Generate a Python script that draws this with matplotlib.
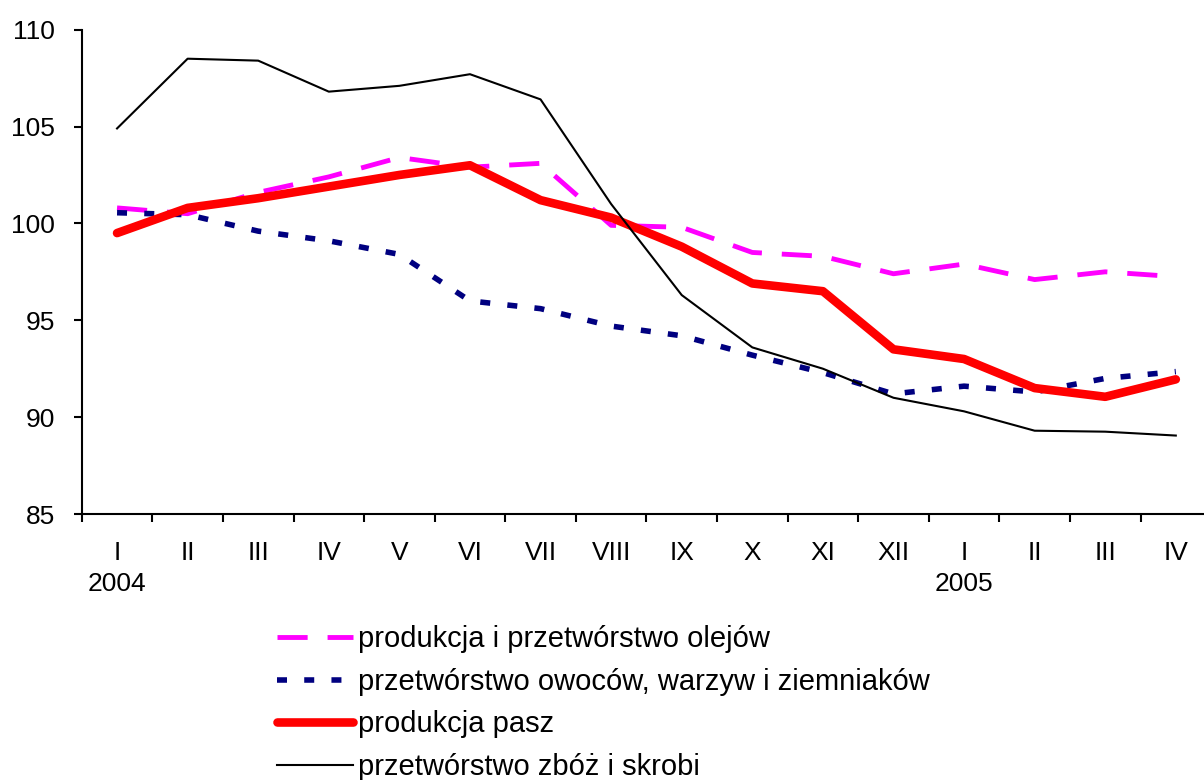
import matplotlib
matplotlib.use('Agg')
import matplotlib.pyplot as plt
import matplotlib.transforms as mtransforms
import numpy as np

plt.rcParams['font.family'] = ['Liberation Sans', 'DejaVu Sans']

# months Jan 2004 - Apr 2005
months = ['I', 'II', 'III', 'IV', 'V', 'VI', 'VII', 'VIII', 'IX', 'X', 'XI', 'XII',
          'I', 'II', 'III', 'IV']
years = ['2004', '2005']
year_pos = [0, 12]

oleje = [100.8, 100.5, 101.6, 102.4, 103.4, 102.9, 103.1, 99.9,
         99.8, 98.5, 98.3, 97.4, 97.9, 97.1, 97.5, 97.25]
owoce = [100.55, 100.45, 99.6, 99.1, 98.4, 96.0, 95.6, 94.7,
         94.2, 93.2, 92.3, 91.2, 91.6, 91.3, 92.0, 92.35]
pasze = [99.5, 100.8, 101.3, 101.9, 102.5, 103.0, 101.2, 100.3,
         98.8, 96.9, 96.5, 93.5, 93.0, 91.5, 91.05, 91.95]
zboza = [104.9, 108.5, 108.4, 106.8, 107.1, 107.7, 106.4, 101.0,
         96.3, 93.6, 92.5, 91.0, 90.3, 89.3, 89.25, 89.05]

labels = ['produkcja i przetwórstwo olejów',
          'przetwórstwo owoców, warzyw i ziemniaków',
          'produkcja pasz',
          'przetwórstwo zbóż i skrobi']

fig = plt.figure(figsize=(12.04, 7.8), dpi=100)
# the chart area runs a little past the right edge of the picture
ax = fig.add_axes([0.0679, 0.341, 0.938, 0.621])

x = np.arange(len(months))
ax.plot(x, oleje, color='#FF00FF', lw=3.5, dashes=(6.2, 4.1), label=labels[0])
ax.plot(x, owoce, color='#000080', lw=4, dashes=(1.8, 3.1), label=labels[1])
ax.plot(x, pasze, color='#FF0000', lw=6.2, solid_capstyle='round',
        solid_joinstyle='round', label=labels[2])
ax.plot(x, zboza, color='black', lw=1.5, label=labels[3])

ax.set_xlim(-0.5, len(months) - 0.5)
ax.set_ylim(85, 110)
ax.set_yticks(np.arange(85, 111, 5))
ax.tick_params(axis='y', labelsize=19, length=6, width=1.5, direction='out', pad=13)

# boundaries get the tick marks, centres get the labels
ax.set_xticks(np.arange(-0.5, len(months), 1))
ax.set_xticklabels([])
ax.set_xticks(x, minor=True)
ax.set_xticklabels(months, minor=True)
ax.tick_params(axis='x', which='major', length=6, width=1.5, direction='out')
ax.tick_params(axis='x', which='minor', length=0, labelsize=19, pad=19.5)

trans = mtransforms.blended_transform_factory(ax.transData, ax.transAxes)
for yr, pos in zip(years, year_pos):
    ax.text(pos, -0.145, yr, transform=trans, ha='center', va='center', fontsize=19)

for side in ['top', 'right']:
    ax.spines[side].set_visible(False)
for side in ['left', 'bottom']:
    ax.spines[side].set_linewidth(1.5)

# last legend row is cut by the bottom edge, as in the original
fig.legend(loc='upper left', bbox_to_anchor=(0.218, 0.217), frameon=False,
           fontsize=21, handlelength=2.6, handletextpad=0.17,
           labelspacing=0.5, borderpad=0)

fig.savefig('out.png', dpi=100)
